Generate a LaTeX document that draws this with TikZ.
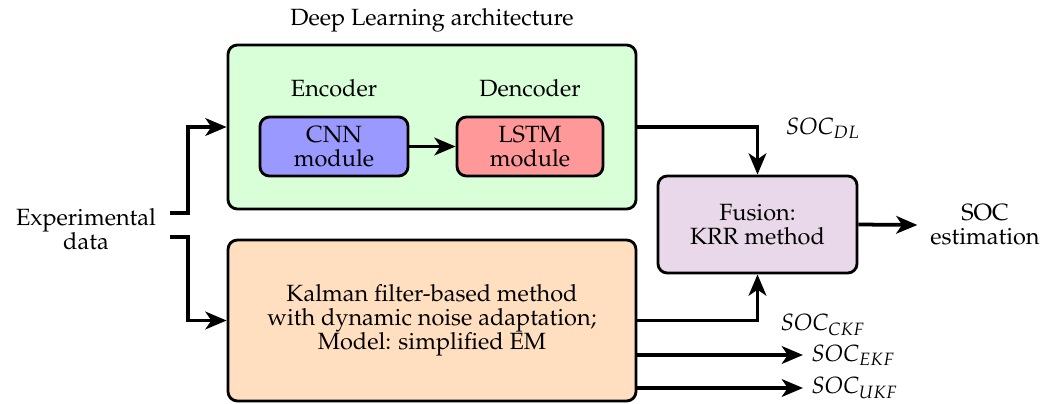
\documentclass[tikz,border=0pt]{standalone}
\usepackage[T1]{fontenc}
\usepackage{mathpazo}
\usetikzlibrary{arrows.meta}
\definecolor{dlgreen}{RGB}{217,255,217}
\definecolor{cnnblue}{RGB}{153,153,255}
\definecolor{lstmred}{RGB}{255,153,153}
\definecolor{kforange}{RGB}{255,223,191}
\definecolor{fuspurple}{RGB}{233,216,234}
\begin{document}
\begin{tikzpicture}[x=0.4255pt,y=-0.4255pt,
  every node/.style={font=\fontsize{10}{10.2}\selectfont},
  box/.style={draw=black, line width=1.2pt, rounded corners=4pt, align=center, inner sep=0pt},
  arr/.style={line width=1.6pt, -{Stealth[length=9pt,width=7.5pt,inset=2.5pt]}}]
\useasboundingbox (0,0) rectangle (1056,403);
% boxes
\node[box, fill=dlgreen, minimum width=173.6pt, minimum height=69.8pt] (dl) at (432,127) {};
\node (title) at (432,20) {Deep Learning architecture};
\node (enc) at (334,88) {Encoder};
\node (dec) at (530,88) {Dencoder};
\node[box, fill=cnnblue, minimum width=63pt, minimum height=25.1pt] (cnn) at (334,146.5) {CNN\\module};
\node[box, fill=lstmred, minimum width=62.1pt, minimum height=25.1pt] (lstm) at (530,146.5) {LSTM\\module};
\node[box, fill=kforange, minimum width=173.6pt, minimum height=68.5pt] (kf) at (432,320.5) {Kalman filter-based method\\with dynamic noise adaptation;\\Model: simplified EM};
\node[box, fill=fuspurple, minimum width=84.7pt, minimum height=41.3pt] (fus) at (757.5,224.5) {Fusion:\\KRR method};
\node[align=center] (exp) at (86,229) {Experimental\\data};
\node[align=center] (soc) at (985,225) {SOC\\estimation};
% labels
\node (ldl) at (823,128) {$SOC_{DL}$};
\node (lckf) at (823,325) {$SOC_{CKF}$};
\node[anchor=west] (lekf) at (803,355) {$SOC_{EKF}$};
\node[anchor=west] (lukf) at (803,388) {$SOC_{UKF}$};
% coordinates
\coordinate (e1) at (170,213);
\coordinate (e2) at (170,237);
\coordinate (j1) at (188,213);
\coordinate (j2) at (188,237);
% connectors
\draw[arr] (e1) -- (j1) |- (dl.west);
\draw[arr] (e2) -- (j2) |- (kf.west);
\draw[arr] (cnn) -- (lstm);
\draw[arr] (dl.east) -| (fus.north);
\draw[arr] (kf.east) -| (fus.south);
\draw[arr] (fus.east) -- ([xshift=-2pt]soc.west);
\draw[arr] (kf.east |- lekf.west) -- (lekf.west);
\draw[arr] (kf.east |- lukf.west) -- (lukf.west);
\end{tikzpicture}
\end{document}
